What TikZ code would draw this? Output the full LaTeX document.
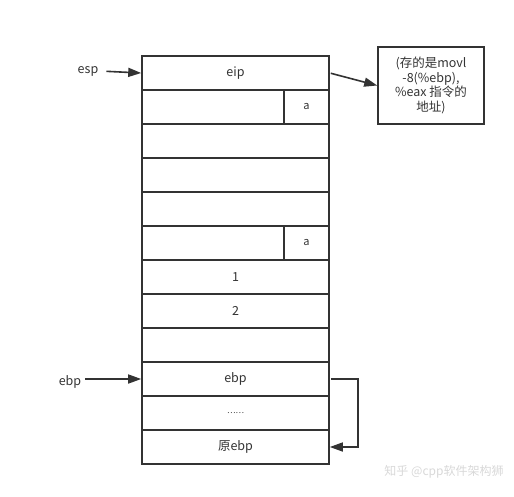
\documentclass[tikz,border=0pt]{standalone}
\usepackage{fontspec}
\setmainfont{Noto Sans CJK SC}
\usetikzlibrary{arrows.meta}
\definecolor{ink}{HTML}{333333}
\definecolor{wm}{HTML}{D8D8D8}
\tikzset{
  cell/.style={draw=ink, line width=1.6pt, minimum width=187pt, minimum height=34pt, inner sep=0pt, text=ink, font=\fontsize{12.5}{14}\selectfont},
  small/.style={draw=ink, line width=1.6pt, minimum width=45pt, minimum height=34pt, inner sep=0pt, text=ink, font=\fontsize{11}{12}\selectfont},
  lbl/.style={text=ink, font=\fontsize{12.5}{14}\selectfont, inner sep=1pt},
  ptr/.style={draw=ink, line width=1.6pt, -{Triangle[length=13pt,width=9pt]}},
  notebox/.style={draw=ink, line width=1.6pt, minimum width=106pt, minimum height=77pt, inner sep=2pt, align=center, text=ink, font=\fontsize{12.5}{14.5}\selectfont},
}
\begin{document}
\begin{tikzpicture}[x=1pt,y=-1pt]
\useasboundingbox (0,0) rectangle (514,496);
\node[cell] (r1) at (235.5,73) {eip};
\node[cell] (r2) at (235.5,107) {};
\node[cell] (r3) at (235.5,141) {};
\node[cell] (r4) at (235.5,175) {};
\node[cell] (r5) at (235.5,209) {};
\node[cell] (r6) at (235.5,243) {};
\node[cell] (r7) at (235.5,277) {1};
\node[cell] (r8) at (235.5,311) {2};
\node[cell] (r9) at (235.5,345) {};
\node[cell] (r10) at (235.5,379) {ebp};
\node[cell] (r11) at (235.5,413) {\fontsize{8}{10}\selectfont ……};
\node[cell] (r12) at (235.5,447) {原ebp};
\node[small] (a1) at (306.5,107) {a};
\node[small] (a2) at (306.5,243) {a};
\node[lbl] (esp) at (88,71) {esp};
\node[lbl] (ebp) at (70,382) {ebp};
\node[notebox] (note) at (431,85.5) {(存的是movl\\-8(\%ebp),\\\%eax 指令的\\地址)};
\draw[ptr, shorten <=7pt] (esp.east) -- (r1.west);
\draw[ptr, shorten <=3pt] (ebp.east |- r10.west) -- (r10.west);
\draw[ptr, shorten <=1pt] (r1.east) -- (note.west);
\draw[ptr, shorten <=1pt] (r10.east) -- ++(28,0) |- (r12.east);
\node[text=wm, font=\fontsize{12}{14}\selectfont, inner sep=0pt] (mark) at (444,472) {知乎 @cpp软件架构狮};
\end{tikzpicture}
\end{document}
